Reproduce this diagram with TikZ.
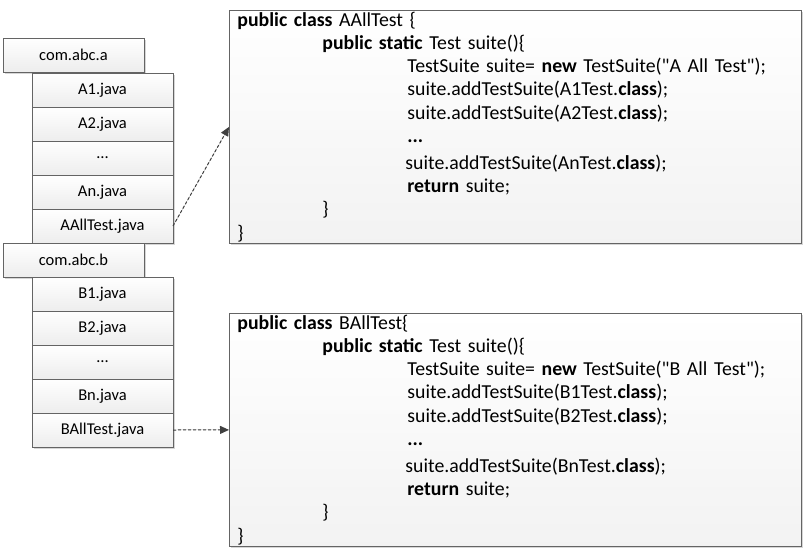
\documentclass[tikz,border=0pt]{standalone}
\usepackage{fontspec}
\setmainfont{Carlito}[Ligatures=TeXOff]
\usepackage{tikz}
\usetikzlibrary{positioning, arrows.meta, shadows}
\definecolor{bordgris}{RGB}{100,100,100}
\definecolor{flechegris}{RGB}{64,64,64}

\begin{document}
\begin{tikzpicture}[x=1pt, y=-1pt,
    >={Triangle[length=9pt, width=8pt]},
    paquet/.style={rectangle, draw=bordgris, line width=0.8pt, outer sep=0pt,
                   top color=white, bottom color=gray!14,
                   drop shadow={shadow xshift=1.5pt, shadow yshift=-1.5pt, fill=black!40, opacity=0.4},
                   minimum width=141pt, minimum height=34pt, inner sep=0pt,
                   font=\fontsize{16.5}{18}\selectfont},
    fichier/.style={paquet},
    code/.style={rectangle, draw=bordgris, line width=0.8pt,
                 top color=white, bottom color=gray!10,
                 drop shadow={shadow xshift=1.5pt, shadow yshift=-1.5pt, fill=black!40, opacity=0.4},
                 text width=556pt, minimum height=233pt, inner xsep=8pt, inner ysep=0pt,
                 align=left, font=\fontsize{19.8}{23.2}\selectfont},
    lien/.style={->, dashed, dash pattern=on 3pt off 2pt, line width=1pt,
                 draw=flechegris, fill=flechegris}]
    \useasboundingbox (0,0) rectangle (808,554);
    % paquet com.abc.a et ses fichiers
    \node[paquet, anchor=north west] (pkgA) at (3,38) {com.abc.a};
    \node[fichier, anchor=north west] (a1) at (32,73) {A1.java};
    \node[fichier, below=0pt of a1] (a2) {A2.java};
    \node[fichier, below=0pt of a2] (adots) {\dots};
    \node[fichier, below=0pt of adots] (an) {An.java};
    \node[fichier, below=0pt of an] (aall) {AAllTest.java};
    % paquet com.abc.b et ses fichiers
    \node[paquet, anchor=north west] (pkgB) at (3,243) {com.abc.b};
    \node[fichier, anchor=north west] (b1) at (32,277) {B1.java};
    \node[fichier, below=0pt of b1] (b2) {B2.java};
    \node[fichier, below=0pt of b2] (bdots) {\dots};
    \node[fichier, below=0pt of bdots] (bn) {Bn.java};
    \node[fichier, below=0pt of bn] (ball) {BAllTest.java};
    % code de AAllTest
    \node[code, anchor=north west] (codeA) at (229,10) {%
      \textbf{public class} AAllTest \{\\
      \hspace*{85pt}\textbf{public static} Test suite()\{\\
      \hspace*{170pt}TestSuite suite= \textbf{new} TestSuite("A All Test");\\
      \hspace*{170pt}suite.addTestSuite(A1Test.\textbf{class});\\
      \hspace*{170pt}suite.addTestSuite(A2Test.\textbf{class});\\
      \hspace*{170pt}\textbf{...}\\[4pt]
      \hspace*{168pt}suite.addTestSuite(AnTest.\textbf{class});\\
      \hspace*{170pt}\textbf{return} suite;\\
      \hspace*{85pt}\}\\
      \}};
    % code de BAllTest
    \node[code, anchor=north west] (codeB) at (229,313) {%
      \textbf{public class} BAllTest\{\\
      \hspace*{85pt}\textbf{public static} Test suite()\{\\
      \hspace*{170pt}TestSuite suite= \textbf{new} TestSuite("B All Test");\\
      \hspace*{170pt}suite.addTestSuite(B1Test.\textbf{class});\\
      \hspace*{170pt}suite.addTestSuite(B2Test.\textbf{class});\\
      \hspace*{170pt}\textbf{...}\\[4pt]
      \hspace*{168pt}suite.addTestSuite(BnTest.\textbf{class});\\
      \hspace*{170pt}\textbf{return} suite;\\
      \hspace*{85pt}\}\\
      \}};
    \draw[lien] (aall.east) -- (codeA.west);
    \draw[lien] (ball.east) -- (codeB.west);
\end{tikzpicture}
\end{document}
